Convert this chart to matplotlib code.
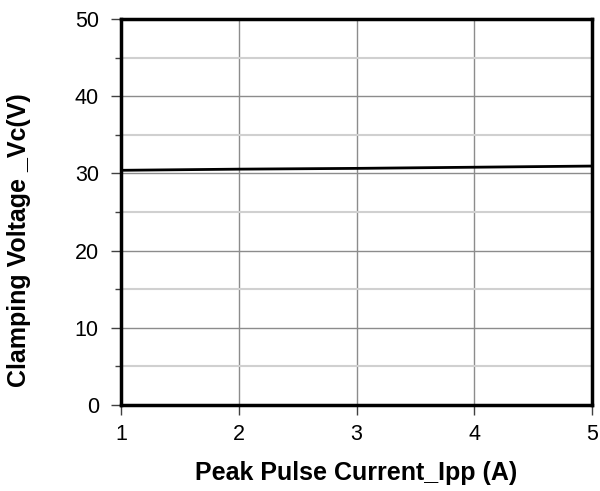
import matplotlib
matplotlib.use("Agg")
import matplotlib.pyplot as plt
from matplotlib.ticker import MultipleLocator

plt.rcParams['font.family'] = ['Liberation Sans', 'DejaVu Sans']

ipp = [1, 2, 3, 4, 5]
vc = [30.4, 30.55, 30.65, 30.8, 30.95]

fig = plt.figure(figsize=(6, 4.91), dpi=100)
ax = fig.add_axes([0.2017, 0.1752, 0.785, 0.7861])
ax.plot(ipp, vc, color='black', lw=2, zorder=3)
ax.set_xlim(1, 5)
ax.set_ylim(0, 50)
ax.xaxis.set_major_locator(MultipleLocator(1))
ax.yaxis.set_major_locator(MultipleLocator(10))
ax.yaxis.set_minor_locator(MultipleLocator(5))
ax.grid(which='major', axis='both', color='#8c8c8c', lw=1)
ax.grid(which='minor', axis='y', color='#d0d0d0', lw=1.5)
for s in ax.spines.values():
    s.set_linewidth(2.5)
    s.set_zorder(4)
ax.tick_params(which='major', length=7, width=1, labelsize=15.5, color='#404040')
ax.tick_params(axis='x', which='major', pad=7)
ax.tick_params(axis='y', which='major', pad=9)
ax.tick_params(which='minor', length=4, width=1, color='#404040')
ax.set_xlabel('Peak Pulse Current_Ipp (A)', fontsize=18, fontweight='bold', labelpad=11)
ax.set_ylabel('Clamping Voltage _Vc(V)', fontsize=18, fontweight='bold')
ax.yaxis.set_label_coords(-0.191, 0.427)
fig.savefig('out.png', dpi=100)
